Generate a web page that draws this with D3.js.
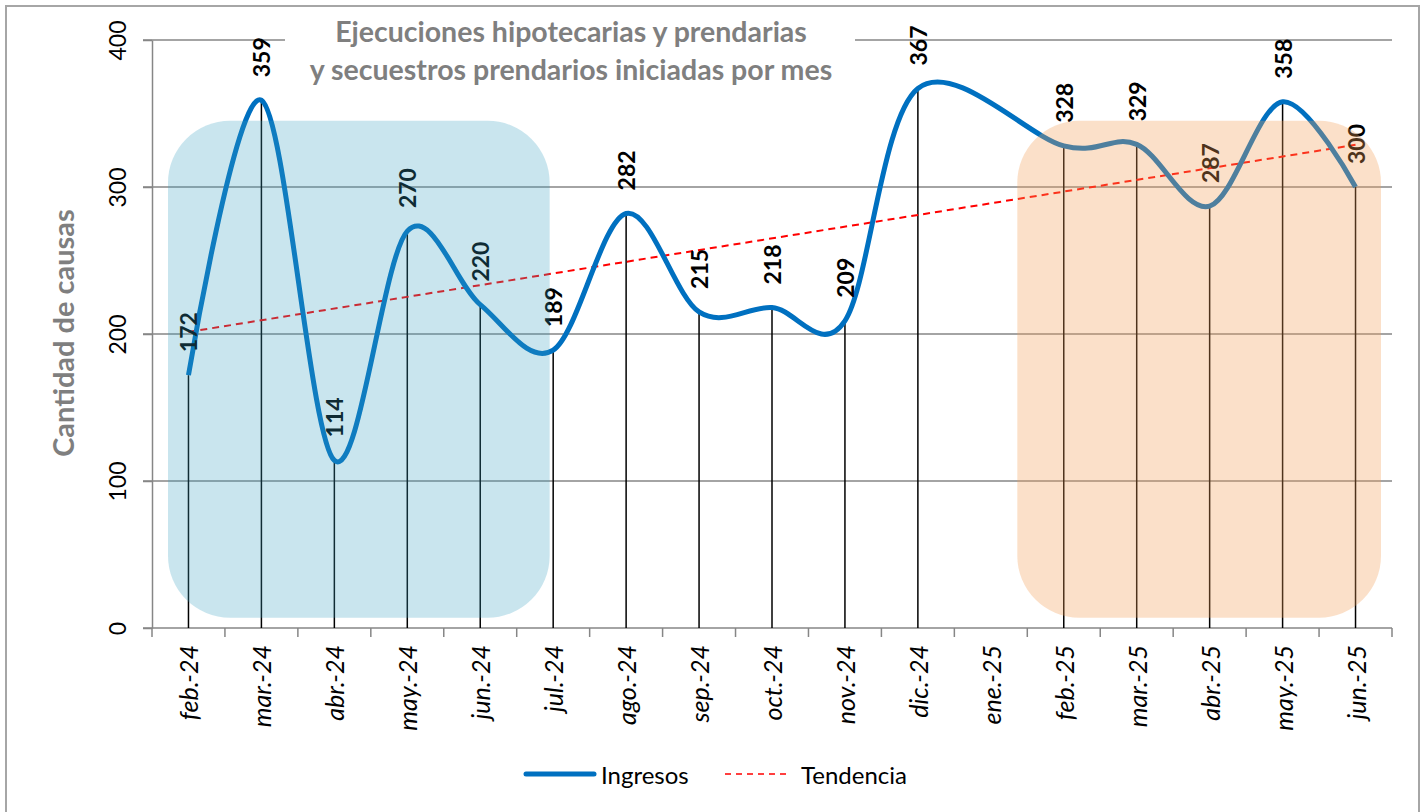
<!DOCTYPE html>
<html>
<head>
<meta charset="utf-8">
<script src="https://cdn.jsdelivr.net/npm/d3@7"></script>
<style>
  body { margin: 0; background: #fff; }
  svg { display: block; font-family: Lato, "Open Sans", sans-serif; }
</style>
</head>
<body>
<script>
// Data
const months = ['feb.-24', 'mar.-24', 'abr.-24', 'may.-24', 'jun.-24', 'jul.-24', 'ago.-24', 'sep.-24',
  'oct.-24', 'nov.-24', 'dic.-24', 'ene.-25', 'feb.-25', 'mar.-25', 'abr.-25', 'may.-25', 'jun.-25'];
const ingresos = [172, 359, 114, 270, 220, 189, 282, 215, 218, 209, 367, null, 328, 329, 287, 358, 300];
const yTicks = [0, 100, 200, 300, 400];
const titleLines = ['Ejecuciones hipotecarias y prendarias', 'y secuestros prendarios iniciadas por mes'];
const yTitle = 'Cantidad de causas';
const legendNames = ['Ingresos', 'Tendencia'];
// highlighted month ranges
const highlightBlue = ['feb.-24', 'jul.-24'];
const highlightPeach = ['feb.-25', 'jun.-25'];

const W = 1428, H = 812;
const plot = { left: 152, right: 1392, top: 40, bottom: 628 };

const svg = d3.select('body').append('svg')
  .attr('width', W)
  .attr('height', H);

// outer frame
svg.append('rect')
  .attr('x', 6).attr('y', 6)
  .attr('width', 1413).attr('height', 830)
  .attr('fill', '#fff')
  .attr('stroke', '#a6a6a6')
  .attr('stroke-width', 2);

const x = d3.scaleBand()
  .domain(months)
  .range([plot.left, plot.right]);

const y = d3.scaleLinear()
  .domain([0, 400])
  .range([plot.bottom, plot.top]);

const cx = m => x(m) + x.bandwidth() / 2;

// gridlines
svg.append('g')
  .selectAll('line')
  .data(yTicks.filter(d => d > 0))
  .enter()
  .append('line')
  .attr('x1', plot.left - 9)
  .attr('x2', plot.right)
  .attr('y1', d => y(d))
  .attr('y2', d => y(d))
  .attr('stroke', '#868686')
  .attr('stroke-width', 1.5);

// y axis
const yAxis = svg.append('g')
  .attr('transform', `translate(${plot.left},0)`)
  .call(d3.axisLeft(y).tickValues(yTicks).tickSize(9).tickSizeOuter(0).tickPadding(0));
yAxis.select('.domain').attr('stroke', '#868686').attr('stroke-width', 1.5);
yAxis.selectAll('.tick line').attr('stroke', '#868686').attr('stroke-width', 1.5);
yAxis.selectAll('.tick text')
  .attr('x', 0).attr('dy', 0)
  .attr('transform', 'translate(-35,0) rotate(-90)')
  .attr('text-anchor', 'middle')
  .attr('dominant-baseline', 'central')
  .attr('fill', '#000')
  .style('font-size', '23px')
  .style('font-family', 'Lato, sans-serif');

// x axis (ticks at band boundaries)
const xAxisG = svg.append('g')
  .attr('transform', `translate(0,${plot.bottom})`);
xAxisG.append('line')
  .attr('x1', plot.left - 9).attr('x2', plot.right)
  .attr('stroke', '#868686').attr('stroke-width', 1.5);
xAxisG.selectAll('line.tk')
  .data(months.concat(['__end']))
  .enter()
  .append('line')
  .attr('class', 'tk')
  .attr('x1', (d, i) => plot.left + i * x.bandwidth())
  .attr('x2', (d, i) => plot.left + i * x.bandwidth())
  .attr('y1', 0).attr('y2', 9)
  .attr('stroke', '#868686').attr('stroke-width', 1.5);
xAxisG.selectAll('text')
  .data(months)
  .enter()
  .append('text')
  .attr('transform', d => `translate(${cx(d)},17) rotate(-90)`)
  .attr('text-anchor', 'end')
  .attr('dominant-baseline', 'central')
  .style('font-size', '25px')
  .style('font-style', 'italic')
  .text(d => d);

const points = months.map((m, i) => ({ m, i, v: ingresos[i] })).filter(d => d.v !== null);

// drop lines
svg.append('g')
  .selectAll('line')
  .data(points)
  .enter()
  .append('line')
  .attr('x1', d => cx(d.m)).attr('x2', d => cx(d.m))
  .attr('y1', d => y(d.v)).attr('y2', y(0))
  .attr('stroke', '#000')
  .attr('stroke-width', 1.5);

// linear trend (least squares over category index)
const mx = d3.mean(points, d => d.i);
const my = d3.mean(points, d => d.v);
const slope = d3.sum(points, d => (d.i - mx) * (d.v - my)) / d3.sum(points, d => (d.i - mx) ** 2);
const icpt = my - slope * mx;
const first = points[0], last = points[points.length - 1];
svg.append('line')
  .attr('x1', cx(first.m)).attr('y1', y(icpt + slope * first.i))
  .attr('x2', cx(last.m)).attr('y2', y(icpt + slope * last.i))
  .attr('stroke', '#ff0000')
  .attr('stroke-width', 2)
  .attr('stroke-dasharray', '7,5');

// smooth line
const line = d3.line()
  .x(d => cx(d.m))
  .y(d => y(d.v))
  .curve(d3.curveCardinal.tension(0));
svg.append('path')
  .datum(points)
  .attr('d', line)
  .attr('fill', 'none')
  .attr('stroke', '#0070c0')
  .attr('stroke-width', 5)
  .attr('stroke-linejoin', 'round');

// data labels
svg.append('g')
  .selectAll('text')
  .data(points)
  .enter()
  .append('text')
  .attr('transform', d => `translate(${cx(d.m)},${y(d.v) - 23}) rotate(-90)`)
  .attr('text-anchor', 'start')
  .attr('dominant-baseline', 'central')
  .style('font-size', '23px')
  .style('font-weight', 'bold')
  .text(d => d.v);

// highlight boxes, drawn on top with transparency
function box(range, padL, padR, fill, op) {
  const x0 = x(range[0]) + padL;
  const x1 = x(range[1]) + x.bandwidth() - padR;
  svg.append('rect')
    .attr('x', x0).attr('y', y(345))
    .attr('width', x1 - x0)
    .attr('height', y(7) - y(345))
    .attr('rx', 62).attr('ry', 62)
    .attr('fill', fill)
    .attr('fill-opacity', op);
}
box(highlightBlue, 16, 40, 'rgb(55,160,192)', 0.27);
box(highlightPeach, -10, 11, 'rgb(244,160,88)', 0.32);

// title with white background
svg.append('rect')
  .attr('x', 285).attr('y', 12)
  .attr('width', 570).attr('height', 78)
  .attr('fill', '#fff');
svg.append('g')
  .selectAll('text')
  .data(titleLines)
  .enter()
  .append('text')
  .attr('x', 571)
  .attr('y', (d, i) => 42 + i * 38)
  .attr('text-anchor', 'middle')
  .attr('fill', '#7f7f7f')
  .style('font-size', '28.5px')
  .style('font-weight', 'bold')
  .text(d => d);

// y title
svg.append('text')
  .attr('transform', 'translate(62,333) rotate(-90)')
  .attr('text-anchor', 'middle')
  .attr('dominant-baseline', 'central')
  .attr('fill', '#7f7f7f')
  .style('font-size', '29px')
  .style('font-weight', 'bold')
  .text(yTitle);

// legend
const lg = svg.append('g').attr('transform', 'translate(0,774)');
lg.append('line')
  .attr('x1', 526).attr('x2', 594)
  .attr('stroke', '#0070c0').attr('stroke-width', 5).attr('stroke-linecap', 'round');
lg.append('text')
  .attr('x', 601).attr('dominant-baseline', 'central')
  .style('font-size', '24px').text(legendNames[0]);
lg.append('line')
  .attr('x1', 725).attr('x2', 786)
  .attr('stroke', '#ff0000').attr('stroke-width', 1.5).attr('stroke-dasharray', '6,5');
lg.append('text')
  .attr('x', 801).attr('dominant-baseline', 'central')
  .style('font-size', '24px').text(legendNames[1]);
</script>
</body>
</html>
